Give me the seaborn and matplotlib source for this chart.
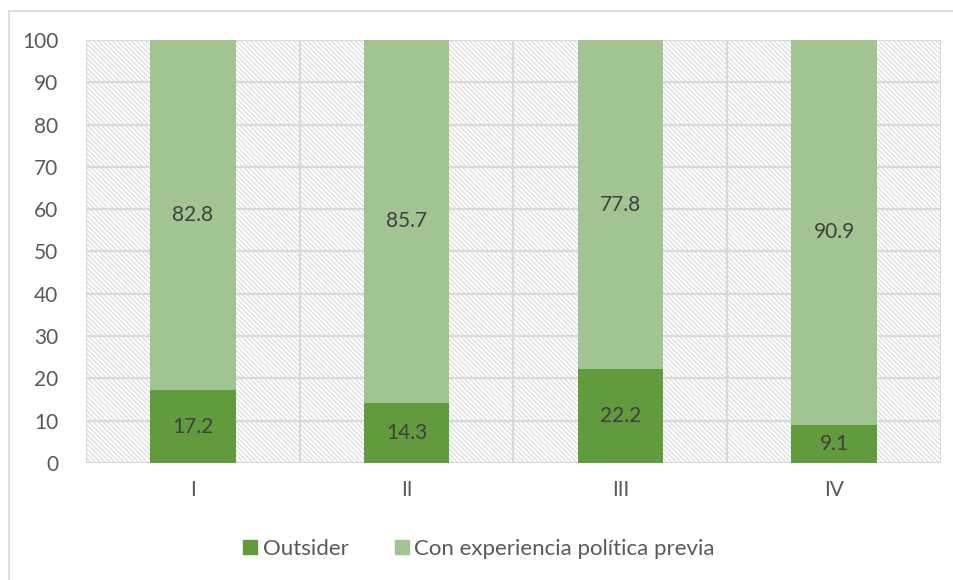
import matplotlib
matplotlib.use("Agg")
import matplotlib.pyplot as plt
import seaborn as sns
import pandas as pd
from matplotlib.patches import Rectangle
from matplotlib.lines import Line2D

categories = ["I", "II", "III", "IV"]
outsider = [17.2, 14.3, 22.2, 9.1]
experiencia = [82.8, 85.7, 77.8, 90.9]
series_names = ["Outsider", "Con experiencia política previa"]
yticks = [0, 10, 20, 30, 40, 50, 60, 70, 80, 90, 100]

dark = "#629a3e"
light = "#a2c493"
grid_c = "#d9d9d9"
text_c = "#595959"
label_c = "#404040"

sns.set_theme(style="white")
plt.rcParams["font.family"] = ["Lato", "DejaVu Sans"]
plt.rcParams["hatch.linewidth"] = 0.8
plt.rcParams["hatch.color"] = "#dadada"

df = pd.DataFrame({"cat": categories, "out": outsider, "exp": experiencia})
df["total"] = df["out"] + df["exp"]

fig = plt.figure(figsize=(9.54, 5.8), dpi=100)
ax = fig.add_axes([86/954, 1-463/580, (941-86)/954, (463-40)/580])

# hatched plot-area background
ax.add_patch(Rectangle((0, 0), 1, 1, transform=ax.transAxes, facecolor="white",
                       edgecolor="#dadada", hatch="\\" * 7, lw=0, zorder=0))

sns.barplot(data=df, x="cat", y="total", color=light, width=0.4, ax=ax,
            saturation=1, zorder=3, edgecolor="none")
sns.barplot(data=df, x="cat", y="out", color=dark, width=0.4, ax=ax,
            saturation=1, zorder=4, edgecolor="none")

fs = 15
for i, (o, e) in enumerate(zip(outsider, experiencia)):
    ax.text(i, o/2, f"{o:.1f}", ha="center", va="center", fontsize=fs, color=label_c, zorder=5)
    ax.text(i, o + e/2, f"{e:.1f}", ha="center", va="center", fontsize=fs, color=label_c, zorder=5)

ax.set_xlim(-0.5, 3.5)
ax.set_ylim(0, 100)
ax.set_yticks(yticks)
ax.set_yticklabels([str(t) for t in yticks])
ax.set_xticks(range(len(categories)))
ax.set_xticks([-0.5, 0.5, 1.5, 2.5, 3.5], minor=True)
ax.tick_params(axis="both", which="both", length=0, labelsize=fs, labelcolor=text_c)
ax.tick_params(axis="y", pad=20)
ax.tick_params(axis="x", pad=12)
ax.set_xlabel("")
ax.set_ylabel("")
ax.set_axisbelow(False)
ax.grid(axis="y", which="major", color=grid_c, lw=1.6, zorder=1)
ax.grid(axis="x", which="minor", color=grid_c, lw=1.6, zorder=1)
ax.grid(axis="x", which="major", visible=False)
for s in ax.spines.values():
    s.set_visible(False)
ax.set_facecolor("none")

handles = [Line2D([], [], marker="s", ls="none", markersize=9.5, color=dark),
           Line2D([], [], marker="s", ls="none", markersize=9.5, color=light)]
fig.legend(handles, series_names, loc="center", bbox_to_anchor=(0.5, 1-549/580),
           ncol=2, frameon=False, fontsize=16, labelcolor=text_c,
           handletextpad=0.05, columnspacing=1.9, handlelength=1.0)

fig.patches.append(Rectangle((9/954, -0.01), 1.0, 1-11/580+0.01, transform=fig.transFigure,
                             fill=False, edgecolor=grid_c, lw=1.2))

fig.savefig("out.png", dpi=100)
